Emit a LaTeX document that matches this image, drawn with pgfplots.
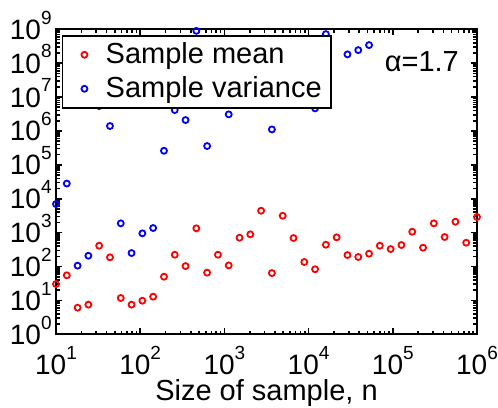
\documentclass[border=0pt]{standalone}
\usepackage{fontspec}
\setmainfont{Liberation Sans}
\usepackage{pgfplots}
\pgfplotsset{compat=1.18}
\pgfplotsset{mylegend/.style={legend image code/.code={\path[draw=none,fill=none] (0pt,0pt) -- (17pt,0pt); \draw[##1, only marks] plot coordinates {(7.85pt,0pt)};}}}
\newcommand{\tp}[1]{10\raisebox{7.6pt}{\fontsize{9.5}{9.5}\selectfont #1}}
\begin{document}
\begin{tikzpicture}
\begin{axis}[name=ax, scale only axis, width=210.5pt, height=152.5pt,
 xmode=log, ymode=log, xmin=10, xmax=1e6, ymin=1, ymax=1e9,
 xtick={10,100,1000,10000,100000,1000000},
 xticklabels={\tp{1},\tp{2},\tp{3},\tp{4},\tp{5},\tp{6}},
 ytick={1,10,100,1000,1e4,1e5,1e6,1e7,1e8,1e9},
 yticklabels={\tp{0},\tp{1},\tp{2},\tp{3},\tp{4},\tp{5},\tp{6},\tp{7},\tp{8},\tp{9}},
 tick label style={font=\fontsize{14}{16}\selectfont, inner sep=0pt},
 yticklabel style={anchor=base east, xshift=-2pt, yshift=-5pt},
 xticklabel style={anchor=base, yshift=-20.3pt},
 xlabel={Size of sample, n},
 xlabel style={font=\fontsize{14.5}{17}\selectfont, at={(axis description cs:0.5,0)}, anchor=base, yshift=-33.2pt, inner sep=0pt},
 axis line style={line width=0.9pt},
 tick style={black, line width=0.8pt},
 major tick length=3pt, minor tick length=1.8pt,
 clip=false,
 legend cell align=left,
 legend style={draw=black, line width=0.75pt, fill=white, at={(axis description cs:0.01425,0.9813)}, anchor=north west, inner xsep=3pt, inner ysep=2pt, row sep=2pt, font=\fontsize{14.5}{17}\selectfont, nodes={inner sep=1.5pt}},
]
\addplot[only marks, mark=o, red, mark size=1.5pt, line width=0.9pt, mylegend]
coordinates {
(10,30.5) (13.43,55) (18.05,6.1) (24.24,7.5) (32.56,411) (43.75,187) (58.78,11.8) (78.97,7.5)
(106.1,9.8) (142.5,12.9) (191.5,50) (257.2,223) (345.6,103) (464.2,1340) (623.6,66) (837.8,223)
(1125,108) (1512,707) (2031,891) (2728,4430) (3665,64) (4924,3150) (6615,693) (8886,136)
(11938,83) (16037,440) (21544,727) (28943,218) (38882,191) (52233,239) (70170,411) (94267,328)
(126638,431) (170125,1063) (228546,359) (307029,1881) (412463,742) (554102,2098) (744380,504) (1000000,2885)
};
\addlegendentry{Sample mean}
\addplot[only marks, mark=o, blue, mark size=1.5pt, line width=0.9pt, mylegend]
coordinates {
(10,6980) (13.43,28100) (18.05,106) (24.24,208) (32.56,5.43e6) (43.75,1.40e6) (58.78,1880) (78.97,250)
(106.1,954) (142.5,1367) (191.5,2.6e5) (257.2,4.14e6) (345.6,2.1e6) (464.2,9.0e8) (623.6,3.59e5)
(1125,3.09e6) (3665,1.11e6) (11938,4.64e6) (16037,7.22e8) (28943,1.82e8) (38882,2.43e8) (52233,3.42e8)
};
\addlegendentry{Sample variance}
\node[anchor=base, font=\fontsize{14.5}{17}\selectfont, inner sep=0pt] at (axis description cs:0.869,0.861) {α=1.7};
\end{axis}
\pgfresetboundingbox
\path[use as bounding box] ([shift={(-28pt,-36.35pt)}]ax.south west) rectangle ([shift={(10.5pt,14.65pt)}]ax.north east);
\end{tikzpicture}
\end{document}
